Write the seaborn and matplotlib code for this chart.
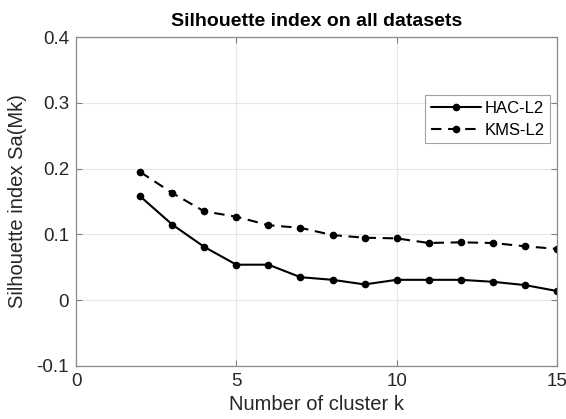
import matplotlib
matplotlib.use("Agg")
import matplotlib.pyplot as plt
import seaborn as sns
import pandas as pd

k_values = [2, 3, 4, 5, 6, 7, 8, 9, 10, 11, 12, 13, 14, 15]
hac_l2 = [0.158, 0.115, 0.081, 0.054, 0.054, 0.035, 0.031, 0.024, 0.031, 0.031, 0.031, 0.028, 0.023, 0.014]
kms_l2 = [0.195, 0.163, 0.135, 0.127, 0.114, 0.110, 0.099, 0.095, 0.094, 0.087, 0.088, 0.087, 0.082, 0.078]
series_names = ["HAC-L2", "KMS-L2"]
x_ticks = [0, 5, 10, 15]
y_ticks = [-0.1, 0, 0.1, 0.2, 0.3, 0.4]
y_tick_labels = ["-0.1", "0", "0.1", "0.2", "0.3", "0.4"]

sns.set_theme(style="white")
plt.rcParams["font.family"] = ["Liberation Sans", "DejaVu Sans"]

df = pd.DataFrame({
    "k": k_values * 2,
    "value": hac_l2 + kms_l2,
    "method": [series_names[0]] * len(k_values) + [series_names[1]] * len(k_values),
})

fig = plt.figure(figsize=(5.66, 4.19), dpi=100)
ax = fig.add_axes([0.1343, 0.1265, 0.8498, 0.785])

sns.lineplot(data=df, x="k", y="value", hue="method", style="method",
             palette=["black", "black"], dashes=[(None, None), (5, 3.2)],
             markers=["o", "o"], markersize=5.5, markeredgewidth=0,
             linewidth=1.5, ax=ax, legend=True)

ax.set_xlim(0, 15)
ax.set_ylim(-0.1, 0.4)
ax.set_xticks(x_ticks)
ax.set_yticks(y_ticks)
ax.set_yticklabels(y_tick_labels)
ax.grid(True, color="#e6e6e6", linewidth=0.8)
ax.set_axisbelow(True)

txt = "#262626"
ax.tick_params(direction="in", length=4, width=0.8, colors="#808080",
               labelcolor=txt, labelsize=13.5, top=True, right=True,
               bottom=True, left=True, pad=5)
for s in ax.spines.values():
    s.set_color("#8c8c8c")
    s.set_linewidth(0.9)

ax.set_xlabel("Number of cluster k", fontsize=14.5, color=txt, labelpad=4)
ax.set_ylabel("Silhouette index Sa(Mk)", fontsize=14.5, color=txt, labelpad=7)
ax.set_title("Silhouette index on all datasets", fontsize=14, fontweight="bold",
             color="black", pad=8)

leg = ax.legend(loc="upper left", bbox_to_anchor=(0.7256, 0.8237), fontsize=12,
                frameon=True, fancybox=False, edgecolor="#8c8c8c",
                handlelength=3.0, handletextpad=0.2, borderpad=0.35,
                labelspacing=0.4, borderaxespad=0)
leg.get_frame().set_linewidth(0.8)
for t in leg.get_texts():
    t.set_color("black")

fig.savefig("out.png", dpi=100)
